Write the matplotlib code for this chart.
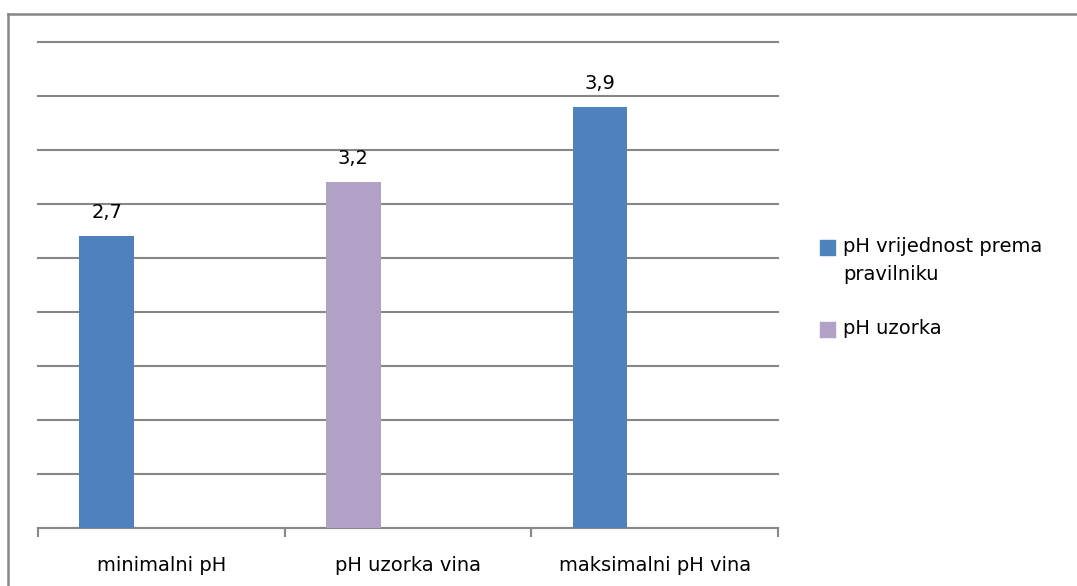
import matplotlib.pyplot as plt
from matplotlib.lines import Line2D
from matplotlib.patches import Rectangle
import numpy as np

# Data
categories = ['minimalni pH', 'pH uzorka vina', 'maksimalni pH vina']
values = [2.7, 3.2, 3.9]
series = ['pH vrijednost prema pravilniku', 'pH uzorka', 'pH vrijednost prema pravilniku']
legend_labels = ['pH vrijednost prema\npravilniku', 'pH uzorka']
series_colors = {'pH vrijednost prema pravilniku': '#4F81BD', 'pH uzorka': '#B1A1C7'}

grid_color = '#878787'
plt.rcParams['font.family'] = ['DejaVu Sans']

fig = plt.figure(figsize=(10.77, 5.86), dpi=100)
ax = fig.add_axes([38 / 1077, 1 - 528 / 586, 740 / 1077, 486 / 586])

x = np.arange(len(categories))
bar_w = 0.222
colors = [series_colors[s] for s in series]
# first slot of a two-bar cluster
bars = ax.bar(x - bar_w, values, width=bar_w, color=colors, zorder=3)

for b, v in zip(bars, values):
    ax.annotate(('%.1f' % v).replace('.', ','),
                (b.get_x() + b.get_width() / 2, b.get_height()),
                xytext=(0, 14), textcoords='offset pixels',
                ha='center', va='bottom', fontsize=14)

ax.set_xlim(-0.5, len(categories) - 0.5)
ax.set_ylim(0, 4.5)
ax.set_yticks(np.arange(0, 4.51, 0.5))
ax.yaxis.grid(True, color=grid_color, linewidth=1.5, zorder=0)
for gl in ax.get_ygridlines():
    gl.set_clip_on(False)
ax.tick_params(axis='y', left=False, labelleft=False)

ax.set_xticks(x)
ax.set_xticklabels(categories, fontsize=14)
ax.tick_params(axis='x', which='major', length=0, pad=20)
ax.set_xticks(np.arange(-0.5, len(categories)), minor=True)
ax.tick_params(axis='x', which='minor', length=6.5, width=1.5, color=grid_color)

for side in ['left', 'right', 'top']:
    ax.spines[side].set_visible(False)
ax.spines['bottom'].set_color(grid_color)
ax.spines['bottom'].set_linewidth(1.5)

# outer chart border (left and top edges visible)
fig.add_artist(Line2D([8 / 1077, 8 / 1077], [0, 1 - 14 / 586], color=grid_color, linewidth=1.8))
fig.add_artist(Line2D([8 / 1077, 1], [1 - 14 / 586, 1 - 14 / 586], color=grid_color, linewidth=1.8))

# legend
leg_y = [247, 329]
for lab, y in zip(legend_labels, leg_y):
    col = series_colors[lab.replace('\n', ' ')]
    fig.add_artist(Rectangle((820 / 1077, 1 - (y + 7.5) / 586), 15 / 1077, 15 / 586,
                             color=col, transform=fig.transFigure))
    fig.text(843 / 1077, 1 - (y - 10) / 586, lab, fontsize=14, va='top', ha='left',
             linespacing=1.6)

fig.savefig('out.png', dpi=100)
